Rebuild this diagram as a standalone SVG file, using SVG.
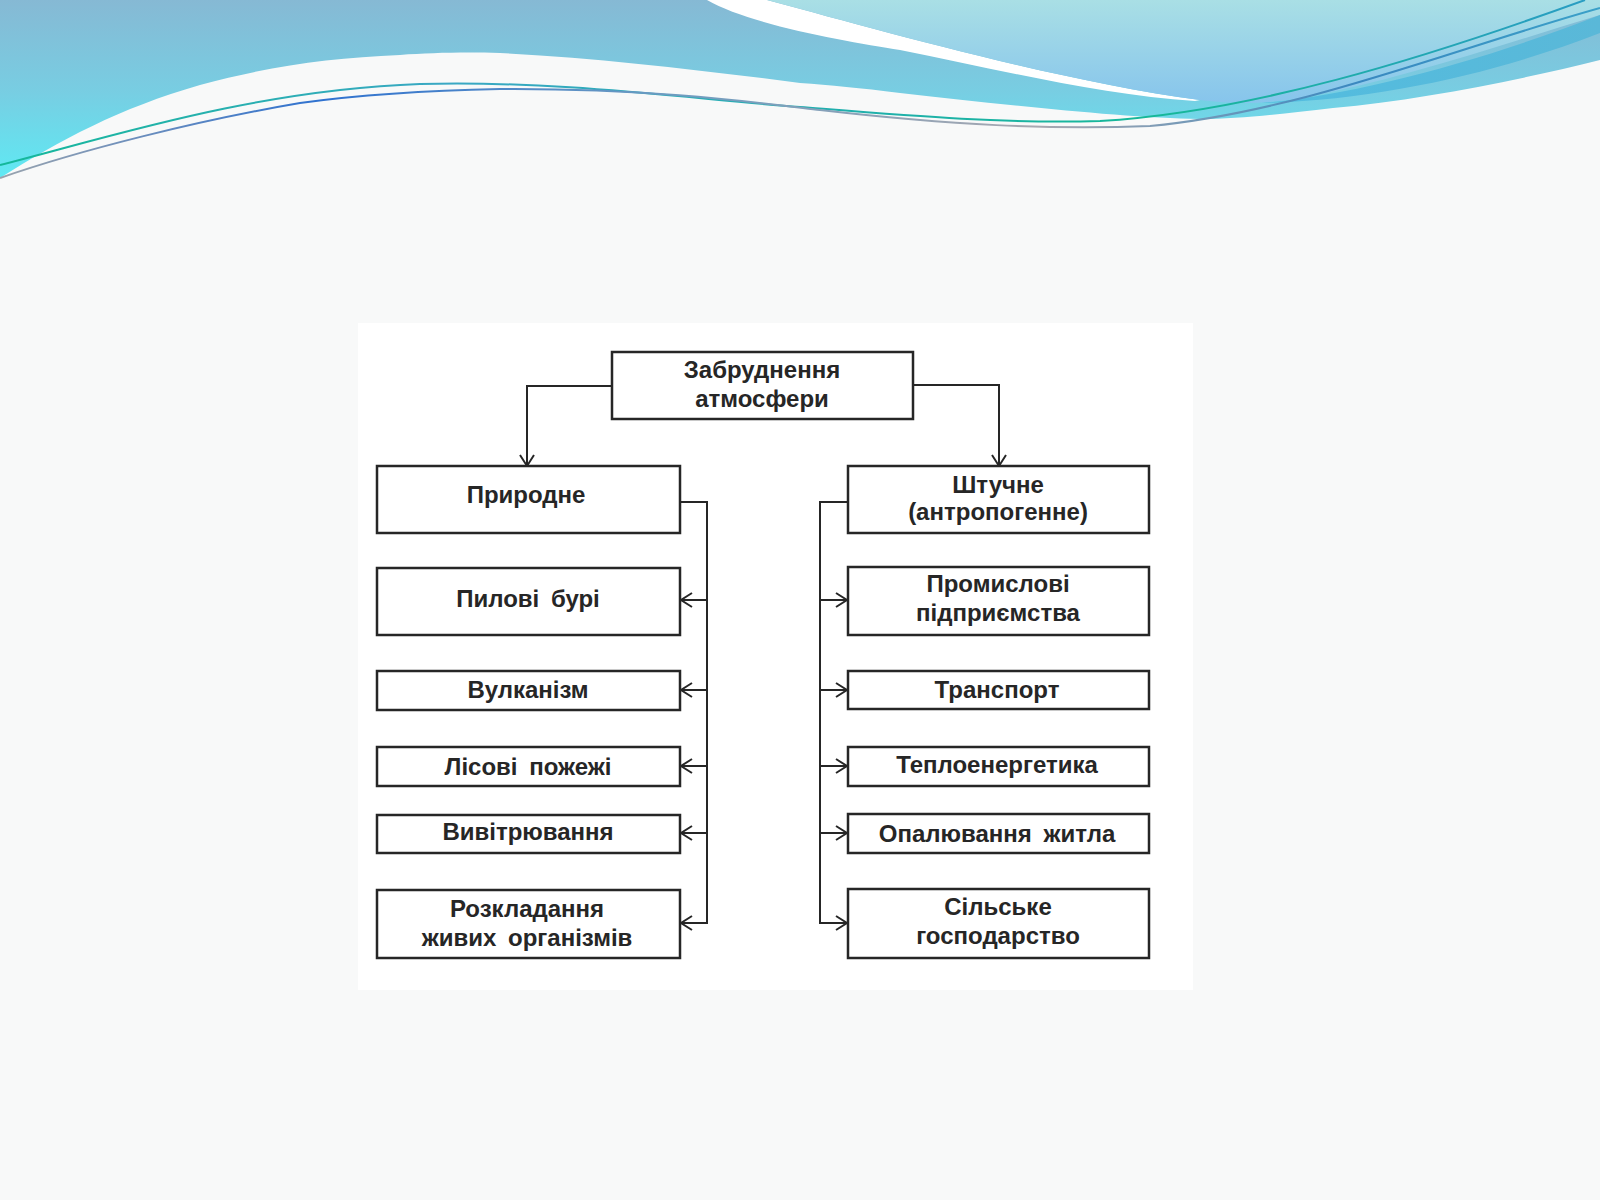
<svg xmlns="http://www.w3.org/2000/svg" width="1600" height="1200" viewBox="0 0 1600 1200">
<defs>
<linearGradient id="gMain" gradientUnits="userSpaceOnUse" x1="0" y1="0" x2="0" y2="180">
<stop offset="0" stop-color="#86b9d4"/>
<stop offset="0.5" stop-color="#78cde2"/>
<stop offset="1" stop-color="#5eeaf4"/>
</linearGradient>
<linearGradient id="gLight" gradientUnits="userSpaceOnUse" x1="0" y1="0" x2="0" y2="105">
<stop offset="0" stop-color="#a9dfe5"/>
<stop offset="1" stop-color="#86c4ec"/>
</linearGradient>
<linearGradient id="gDark" gradientUnits="userSpaceOnUse" x1="1260" y1="0" x2="1600" y2="0">
<stop offset="0" stop-color="#52bde0"/>
<stop offset="1" stop-color="#5ab8d8"/>
</linearGradient>
<linearGradient id="gL1" gradientUnits="userSpaceOnUse" x1="0" y1="0" x2="1600" y2="0">
<stop offset="0" stop-color="#14b89a"/>
<stop offset="0.28" stop-color="#3aa8c4"/>
<stop offset="0.5" stop-color="#22aeb0"/>
<stop offset="0.72" stop-color="#16b898"/>
<stop offset="1" stop-color="#2a9cc4"/>
</linearGradient>
<linearGradient id="gL2" gradientUnits="userSpaceOnUse" x1="0" y1="0" x2="1600" y2="0">
<stop offset="0" stop-color="#9aa4ae"/>
<stop offset="0.2" stop-color="#2f72d0"/>
<stop offset="0.42" stop-color="#6e9cc0"/>
<stop offset="0.65" stop-color="#a8a8b0"/>
<stop offset="0.85" stop-color="#3a88c0"/>
<stop offset="1" stop-color="#3aa0c8"/>
</linearGradient>
</defs>
<style>
.box{fill:#ffffff;stroke:#262626;stroke-width:2.5}
.ln{fill:none;stroke:#262626;stroke-width:2}
.ah{fill:none;stroke:#262626;stroke-width:2;stroke-linejoin:miter}
.t{font-family:"Liberation Sans",Arial,sans-serif;font-size:24px;font-weight:bold;fill:#262626;text-anchor:middle;word-spacing:5px}
</style>
<rect x="0" y="0" width="1600" height="1200" fill="#f8f9f9"/>
<g id="banner">
<path d="M0,0 H1600 V60 C1520,80 1420,100 1333,108 C1280,114 1240,119 1200,119 C1120,118 1000,104 900,93 C860,88 830,85 800,83 C700,70 600,58 500,53 C460,52 430,53 400,55 C330,58 270,66 200,85 C120,108 60,140 0,178 Z" fill="url(#gMain)"/>
<path d="M707,0 C750,25 850,42 900,50 C1000,70 1100,95 1195,101 L1200,100 C1050,80 850,22 767,0 Z" fill="#ffffff"/>
<path d="M767,0 C850,22 1050,80 1200,100 C1240,105 1270,103 1300,98 C1400,80 1500,45 1600,15 V0 Z" fill="url(#gLight)"/>
<path d="M1262,103 C1350,96 1480,62 1600,15 L1600,33 C1500,72 1380,100 1262,103 Z" fill="url(#gDark)"/>
<path d="M0,165 C100,140 250,90 420,84 C560,80 700,100 800,107 C900,115 1000,124 1100,121 C1250,112 1420,60 1585,0" fill="none" stroke="url(#gL1)" stroke-width="2"/>
<path d="M0,178 C80,150 200,120 300,103 C380,92 450,90 500,89 C650,88 760,103 820,110 C950,125 1050,130 1150,126 C1300,112 1450,50 1600,8" fill="none" stroke="url(#gL2)" stroke-width="2"/>
</g>
<rect id="panel" x="358" y="323" width="835" height="667" fill="#ffffff"/>
<g id="connectors">
<path class="ln" d="M612,386 H527 V465"/>
<path class="ah" d="M520,455 L527,466 L534,455"/>
<path class="ln" d="M913,385 H999 V465"/>
<path class="ah" d="M992,455 L999,466 L1006,455"/>
<path class="ln" d="M680,502 H707 V923 H682"/>
<path class="ln" d="M707,600 H682 M707,690 H682 M707,766 H682 M707,833 H682"/>
<path class="ah" d="M692,593 L681,600 L692,607 M692,683 L681,690 L692,697 M692,759 L681,766 L692,773 M692,826 L681,833 L692,840 M692,916 L681,923 L692,930"/>
<path class="ln" d="M848,502 H820 V923 H846"/>
<path class="ln" d="M820,600 H846 M820,690 H846 M820,766 H846 M820,833 H846"/>
<path class="ah" d="M836,593 L847,600 L836,607 M836,683 L847,690 L836,697 M836,759 L847,766 L836,773 M836,826 L847,833 L836,840 M836,916 L847,923 L836,930"/>
</g>
<g id="root"><rect class="box" x="612" y="352" width="301" height="67"/><text class="t" x="762" y="378">Забруднення</text><text class="t" x="762" y="407">атмосфери</text></g>
<g id="natural"><rect class="box" x="377" y="466" width="303" height="67"/><text class="t" x="526" y="503">Природне</text></g>
<g id="dust"><rect class="box" x="377" y="568" width="303" height="67"/><text class="t" x="528" y="607">Пилові бурі</text></g>
<g id="volcano"><rect class="box" x="377" y="671" width="303" height="39"/><text class="t" x="528" y="698">Вулканізм</text></g>
<g id="fires"><rect class="box" x="377" y="747" width="303" height="39"/><text class="t" x="528" y="775">Лісові пожежі</text></g>
<g id="weathering"><rect class="box" x="377" y="815" width="303" height="38"/><text class="t" x="528" y="840">Вивітрювання</text></g>
<g id="decay"><rect class="box" x="377" y="890" width="303" height="68"/><text class="t" x="527" y="917">Розкладання</text><text class="t" x="527" y="946">живих організмів</text></g>
<g id="artificial"><rect class="box" x="848" y="466" width="301" height="67"/><text class="t" x="998" y="493">Штучне</text><text class="t" x="998" y="520">(антропогенне)</text></g>
<g id="industry"><rect class="box" x="848" y="567" width="301" height="68"/><text class="t" x="998" y="592">Промислові</text><text class="t" x="998" y="621">підприємства</text></g>
<g id="transport"><rect class="box" x="848" y="671" width="301" height="38"/><text class="t" x="997" y="698">Транспорт</text></g>
<g id="heat"><rect class="box" x="848" y="747" width="301" height="39"/><text class="t" x="997" y="773">Теплоенергетика</text></g>
<g id="housing"><rect class="box" x="848" y="814" width="301" height="39"/><text class="t" x="997" y="842">Опалювання житла</text></g>
<g id="agri"><rect class="box" x="848" y="889" width="301" height="69"/><text class="t" x="998" y="915">Сільське</text><text class="t" x="998" y="944">господарство</text></g>
</svg>
